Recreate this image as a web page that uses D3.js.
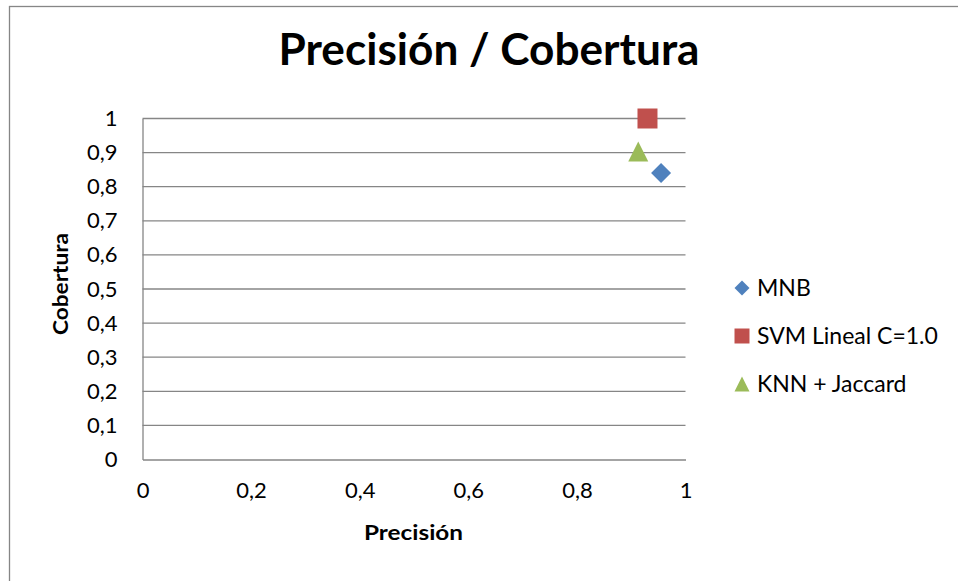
<!DOCTYPE html>
<html>
<head>
<meta charset="utf-8">
<script src="https://cdn.jsdelivr.net/npm/d3@7"></script>
<style>
  html, body { margin: 0; padding: 0; background: #fff; }
  svg { display: block; }
  text { font-family: Lato, "Open Sans", sans-serif; fill: #000; }
</style>
</head>
<body>
<svg id="chart" width="958" height="581"></svg>
<script>
// Series: precision (x) and recall (y) for each classifier
const seriesNames = ["MNB", "SVM Lineal C=1.0", "KNN + Jaccard"];
const precision = [0.955, 0.93, 0.913];
const recall = [0.84, 1.0, 0.903];
const markerShapes = ["diamond", "square", "triangle"];
const colors = ["#4F81BD", "#C0504D", "#9BBB59"];

const xTicks = [0, 0.2, 0.4, 0.6, 0.8, 1];
const yTicks = [0, 0.1, 0.2, 0.3, 0.4, 0.5, 0.6, 0.7, 0.8, 0.9, 1];
const fmt = v => String(v).replace(".", ",");

const svg = d3.select("#chart");

// Outer chart frame
svg.append("rect")
  .attr("x", 9.5).attr("y", 6.5)
  .attr("width", 960).attr("height", 590)
  .attr("fill", "#fff").attr("stroke", "#868686").attr("stroke-width", 1.3);

const x = d3.scaleLinear().domain([0, 1]).range([142.5, 685.5]);
const y = d3.scaleLinear().domain([0, 1]).range([459.5, 118.5]);

// Horizontal gridlines
svg.append("g")
  .selectAll("line")
  .data(yTicks.filter(d => d > 0))
  .join("line")
  .attr("x1", x(0)).attr("x2", x(1))
  .attr("y1", d => y(d)).attr("y2", d => y(d))
  .attr("stroke", "#868686").attr("stroke-width", 1.3);

// Axes (no tick marks, labels only)
const yAxis = svg.append("g")
  .attr("transform", `translate(${x(0)},0)`)
  .call(d3.axisLeft(y).tickValues(yTicks).tickFormat(fmt).tickSize(0).tickPadding(25));
const xAxis = svg.append("g")
  .attr("transform", `translate(0,${y(0)})`)
  .call(d3.axisBottom(x).tickValues(xTicks).tickFormat(fmt).tickSize(0).tickPadding(23));
[xAxis, yAxis].forEach(a => {
  a.select(".domain").attr("stroke", "#868686").attr("stroke-width", 1.3);
  a.selectAll("text").style("font-size", "22px").style("font-family", "Lato, sans-serif").attr("fill", "#000");
});

// Marker path generator
function markerPath(shape, s) {
  const h = s / 2;
  if (shape === "diamond") return `M0,${-h}L${h},0L0,${h}L${-h},0Z`;
  if (shape === "square") return `M${-h},${-h}H${h}V${h}H${-h}Z`;
  return `M0,${-h}L${h},${h}L${-h},${h}Z`;
}

// Data points
svg.append("g")
  .selectAll("path")
  .data(seriesNames.map((n, i) => ({ n, i })))
  .join("path")
  .attr("transform", d => `translate(${x(precision[d.i])},${y(recall[d.i])})`)
  .attr("d", d => markerPath(markerShapes[d.i], 20))
  .attr("fill", d => colors[d.i]);

// Titles
svg.append("text")
  .attr("x", 489).attr("y", 65)
  .attr("text-anchor", "middle")
  .style("font-size", "44px").style("font-weight", "bold")
  .attr("textLength", 421).attr("lengthAdjust", "spacingAndGlyphs")
  .text("Precisión / Cobertura");

svg.append("text")
  .attr("x", 413.5).attr("y", 540)
  .attr("text-anchor", "middle")
  .style("font-size", "20px").style("font-weight", "bold")
  .attr("textLength", 99).attr("lengthAdjust", "spacingAndGlyphs")
  .text("Precisión");

svg.append("text")
  .attr("transform", "translate(68,284) rotate(-90)")
  .attr("text-anchor", "middle")
  .style("font-size", "20px").style("font-weight", "bold")
  .attr("textLength", 102).attr("lengthAdjust", "spacingAndGlyphs")
  .text("Cobertura");

// Legend
const legend = svg.append("g");
const legendY = [288, 336, 384];
seriesNames.forEach((n, i) => {
  legend.append("path")
    .attr("transform", `translate(742,${legendY[i]})`)
    .attr("d", markerPath(markerShapes[i], 15))
    .attr("fill", colors[i]);
  legend.append("text")
    .attr("x", 757).attr("y", legendY[i] + 8)
    .style("font-size", "23px")
    .text(n);
});
</script>
</body>
</html>
